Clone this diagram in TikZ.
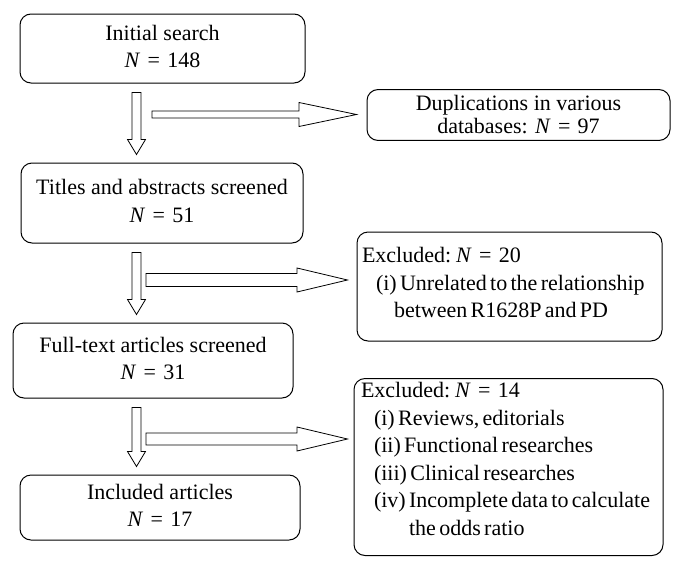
\documentclass[tikz,border=0pt]{standalone}
\usepackage{fontspec}
\setmainfont{Liberation Serif}
\usetikzlibrary{calc}
\tikzset{
  box/.style={draw, line width=1pt, rounded corners=11pt, inner sep=0pt},
  exbox/.style={box, text width=295pt, align=left},
  arr/.style={draw, line width=0.8pt, fill=white, line join=miter},
}
\newcommand\tx{\fontsize{22}{27.5}\selectfont}
\newcommand\Neq[1]{\textit{N}\hspace{0.33em}=\hspace{0.33em}#1}
\newcommand\darr[2]{\draw[arr] let \p1=(136.5,0 |- #1.south), \p2=(136.5,0 |- #2.north) in
  (\x1-4.5pt,\y1-9pt) -- (\x1-4.5pt,\y2+23pt) -- (\x1-9pt,\y2+23pt) -- (\x1,\y2+8pt)
  -- (\x1+9pt,\y2+23pt) -- (\x1+4.5pt,\y2+23pt) -- (\x1+4.5pt,\y1-9pt) -- cycle;}
% #1 y centre, #2 x start, #3 head start, #4 target node, #5 gap, #6 shaft half, #7 head half
\newcommand\rarr[7]{\draw[arr] let \p1=(#4.west) in
  (#2,#1-#6) -- (#3,#1-#6) -- (#3,#1-#7) -- (\x1-#5pt,-#1pt) -- (#3,#1+#7) -- (#3,#1+#6) -- (#2,#1+#6) -- cycle;}
\begin{document}
\begin{tikzpicture}[x=1pt,y=-1pt]
\useasboundingbox (0,0) rectangle (684,570);

\node[box, minimum width=285pt, minimum height=69pt] (b1) at (162.5,48.5)
  {\tx\begin{tabular}{@{}c@{}}Initial search\\ \Neq{148}\end{tabular}};
\node[box, minimum width=282pt, minimum height=80pt] (b2) at (162,203)
  {\tx\begin{tabular}{@{}c@{}}Titles and abstracts screened\\ \Neq{51}\end{tabular}};
\node[box, minimum width=280pt, minimum height=75pt] (b3) at (153,360.5)
  {\tx\begin{tabular}{@{}c@{}}Full-text articles screened\\ \Neq{31}\end{tabular}};
\node[box, minimum width=280pt, minimum height=65pt] (b4) at (160,507.5)
  {\tx\begin{tabular}{@{}c@{}}Included articles\\ \Neq{17}\end{tabular}};

\node[box, minimum width=303pt, minimum height=46pt] (dup) at (518.5,115)
  {\fontsize{22}{23}\selectfont\begin{tabular}{@{}c@{}}\rule{0pt}{21pt}Duplications in various\\ databases: \Neq{97}\end{tabular}};

\node[exbox, inner xsep=5pt, minimum height=109pt] (e1) at (509.5,286.5)
  {\tx\begin{tabular}{@{}l@{}}Excluded: \Neq{20}\\
   \hspace*{14pt}(i) Unrelated to the relationship\\
   \hspace*{32pt}between R1628P and PD\\[4pt]\end{tabular}};

\node[exbox, inner xsep=7pt, minimum height=176pt] (e2) at (508.5,467)
  {\tx\begin{tabular}{@{}l@{}}Excluded: \Neq{14}\\
   \hspace*{13pt}(i) Reviews, editorials\\
   \hspace*{13pt}(ii) Functional researches\\
   \hspace*{13pt}(iii) Clinical researches\\
   \hspace*{13pt}(iv) Incomplete data to calculate\\
   \hspace*{13pt}\hphantom{(iv) }the odds ratio\\[12pt]\end{tabular}};

\darr{b1}{b2}
\darr{b2}{b3}
\darr{b3}{b4}

\rarr{114.5}{152}{299}{dup}{10}{3.5}{12}
\rarr{280}{146}{297}{e1}{9}{6.5}{12}
\rarr{439}{146}{297}{e2}{6}{6}{12}
\end{tikzpicture}
\end{document}
